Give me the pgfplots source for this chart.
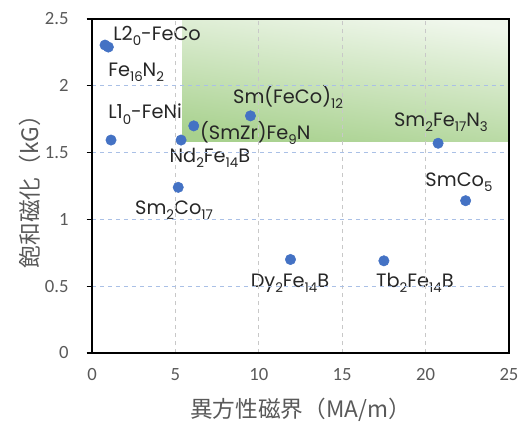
\documentclass[border=0pt]{standalone}
\usepackage{pgfplots}
\pgfplotsset{compat=1.18}
\usepackage{fontspec}
\setmainfont{Carlito}
\newfontfamily\lab{Poppins}
\newfontfamily\cjk{Noto Sans CJK JP}
\newcommand\sub[1]{\raisebox{-0.28em}{\lab\fontsize{10}{12}\selectfont #1}}
\definecolor{tickgray}{RGB}{89,89,89}
\definecolor{txt}{RGB}{38,38,38}
\definecolor{dot}{RGB}{68,114,196}
\definecolor{gA}{RGB}{168,209,142}
\definecolor{gB}{RGB}{240,247,236}
\definecolor{xg}{RGB}{200,200,200}
\definecolor{yg}{RGB}{170,192,230}
\begin{document}
\begin{tikzpicture}
\begin{axis}[
  scale only axis, width=312.75pt, height=250.5pt,
  xmin=0, xmax=25, ymin=0, ymax=2.5,
  xtick={0,5,10,15,20,25}, ytick={0,0.5,1,1.5,2,2.5},
  yticklabels={0,0.5,1,1.5,2,2.5},
  /pgf/number format/assume math mode=true,
  ticklabel style={font=\fontsize{14}{16}\selectfont, color=tickgray},
  xtick style={draw=none},
  ytick style={black, line width=0.8pt},
  major tick length=4pt, tick align=outside,
  xtick pos=bottom, ytick pos=left,
  xticklabel style={yshift=-4pt},
  yticklabel style={xshift=-10pt},
  axis line style={black, line width=1.3pt},
  xmajorgrids, ymajorgrids,
  x grid style={xg, dashed, line width=0.6pt},
  y grid style={yg, dashed, line width=0.6pt},
  clip=false,
  xlabel={\cjk 異方性磁界（MA/m）},
  ylabel={\cjk 飽和磁化（kG）},
  label style={font=\fontsize{17}{19}\selectfont, color=tickgray},
  xlabel style={at={(axis description cs:0.5,0)}, anchor=center, yshift=-42.75pt},
  ylabel style={at={(axis description cs:0,0.5)}, anchor=center, yshift=46.5pt},
  axis on top,
]
\addplot[draw=none, shading=axis, bottom color=gA, top color=gB, shading angle=-8] coordinates {(5.4,1.58) (25,1.58) (25,2.5) (5.4,2.5)} -- cycle;
\addplot[only marks, mark=*, mark size=3.9pt, mark options={draw=dot, fill=dot}] coordinates {
(0.78,2.305) (0.98,2.29) (1.14,1.594) (5.34,1.594) (6.1,1.70) (9.5,1.775)
(5.17,1.24) (11.9,0.70) (17.5,0.69) (20.75,1.57) (22.4,1.14)};
\begin{scope}[every node/.style={font=\lab\fontsize{14.5}{16}\selectfont, text=txt, inner sep=0pt}]
\node[anchor=west] at (axis cs:1.26,2.373) {L2\sub{0}-FeCo};
\node[anchor=west] at (axis cs:0.96,2.103) {Fe\sub{16}N\sub{2}};
\node[anchor=west] at (axis cs:0.96,1.789) {L1\sub{0}-FeNi};
\node[anchor=center] at (axis cs:7.07,1.46) {Nd\sub{2}Fe\sub{14}B};
\node[anchor=west] at (axis cs:6.47,1.647) {(SmZr)Fe\sub{9}N};
\node[anchor=west] at (axis cs:8.45,1.916) {Sm(FeCo)\sub{12}};
\node[anchor=center] at (axis cs:4.92,1.07) {Sm\sub{2}Co\sub{17}};
\node[anchor=center] at (axis cs:11.87,0.524) {Dy\sub{2}Fe\sub{14}B};
\node[anchor=center] at (axis cs:19.36,0.524) {Tb\sub{2}Fe\sub{14}B};
\node[anchor=center] at (axis cs:20.92,1.729) {Sm\sub{2}Fe\sub{17}N\sub{3}};
\node[anchor=center] at (axis cs:22.0,1.28) {SmCo\sub{5}};
\end{scope}
\end{axis}
\pgfresetboundingbox
\path[use as bounding box] (-69pt,-57.75pt) rectangle (320.25pt,264.75pt);
\end{tikzpicture}
\end{document}
